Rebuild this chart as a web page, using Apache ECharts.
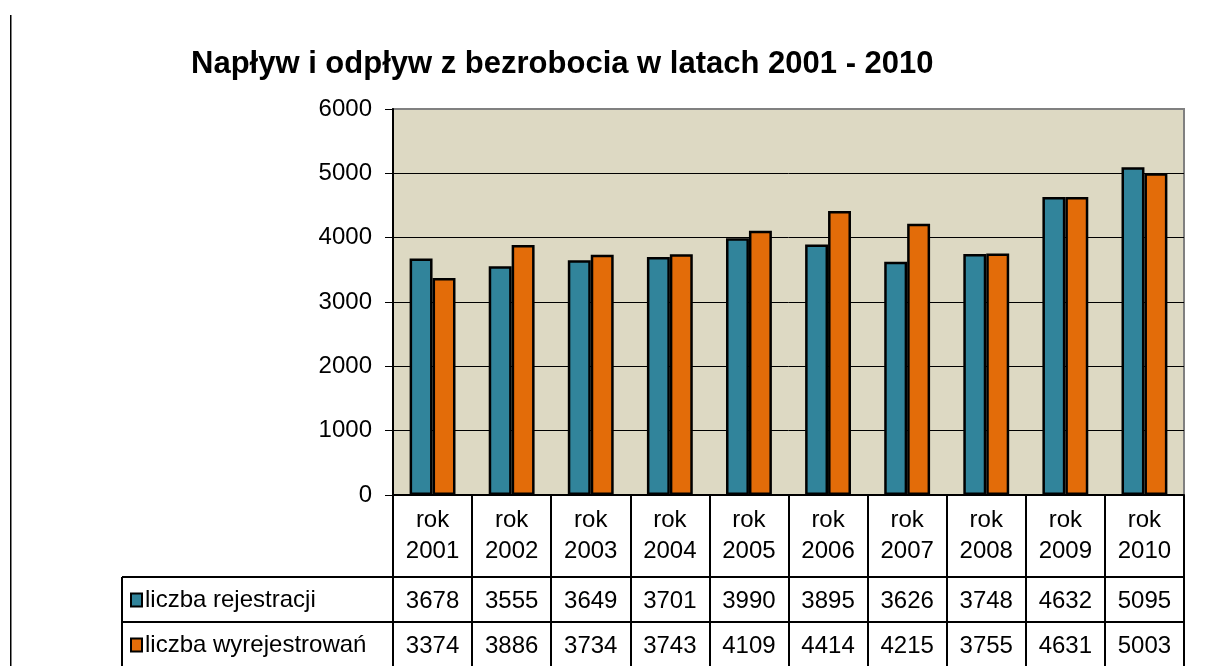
<!DOCTYPE html>
<html>
<head>
<meta charset="utf-8">
<script src="https://cdn.jsdelivr.net/npm/echarts@6/dist/echarts.min.js"></script>
<style>
  html, body { margin: 0; padding: 0; background: #fff; }
  #chart { width: 1207px; height: 666px; }
</style>
</head>
<body>
<div id="chart"></div>
<script>
const years = ['2001', '2002', '2003', '2004', '2005', '2006', '2007', '2008', '2009', '2010']
const rejestracje = [3678, 3555, 3649, 3701, 3990, 3895, 3626, 3748, 4632, 5095]
const wyrejestrowania = [3374, 3886, 3734, 3743, 4109, 4414, 4215, 3755, 4631, 5003]
const seriesNames = ['liczba rejestracji', 'liczba wyrejestrowań']
const colors = ['#31849B', '#E36C09']

const font = 'Liberation Sans, Arial, sans-serif'
const fs = 24
const myChart = echarts.init(document.getElementById('chart'))

// wiersz tabeli pod osią = dodatkowa oś kategorii z przesunięciem
function rowAxis(values, offset) {
  return {
    type: 'category',
    data: years,
    position: 'bottom',
    offset: offset,
    axisLine: { show: false },
    axisTick: { show: false },
    axisLabel: {
      interval: 0,
      margin: 12,
      color: '#000',
      fontFamily: font,
      fontSize: fs,
      formatter: (v, i) => String(values[i])
    }
  }
}

const option = {
  backgroundColor: '#fff',
  animation: false,
  title: {
    text: 'Napływ i odpływ z bezrobocia w latach 2001 - 2010',
    left: 186,
    top: 44,
    textStyle: { color: '#000', fontFamily: font, fontSize: 31, fontWeight: 'bold' }
  },
  legend: seriesNames.map((name, i) => ({
    data: [name],
    icon: 'rect',
    left: 125,
    top: 583 + i * 45,
    itemWidth: 11,
    itemHeight: 13,
    itemGap: 4,
    textStyle: { color: '#000', fontFamily: font, fontSize: fs, padding: [0, 0, 0, -2] }
  })),
  grid: {
    left: 393,
    right: 23,
    top: 109,
    bottom: 171,
    show: true,
    backgroundColor: '#DDD9C3',
    borderColor: '#808080',
    borderWidth: 2
  },
  xAxis: [
    {
      type: 'category',
      data: years,
      axisLine: { show: true, lineStyle: { color: '#000', width: 2 } },
      axisTick: { show: true, interval: 0, length: 171, lineStyle: { color: '#000', width: 2 } },
      axisLabel: {
        interval: 0,
        margin: 10,
        color: '#000',
        fontFamily: font,
        fontSize: fs,
        lineHeight: 31,
        formatter: v => 'rok\n' + v
      }
    },
    rowAxis(rejestracje, 82),
    rowAxis(wyrejestrowania, 127)
  ],
  yAxis: {
    type: 'value',
    min: 0,
    max: 6000,
    interval: 1000,
    axisLine: { show: true, lineStyle: { color: '#000', width: 2 } },
    axisTick: { show: true, length: 8, lineStyle: { color: '#000', width: 1 } },
    axisLabel: { margin: 21, color: '#000', fontFamily: font, fontSize: fs, formatter: v => String(v) },
    splitLine: {
      show: true,
      lineStyle: { color: ['#000', '#000', '#000', '#000', '#000', '#000', '#808080'], width: 1 }
    }
  },
  graphic: [
    { type: 'rect', shape: { x: 10, y: 15, width: 1.5, height: 651 }, style: { fill: '#000' } },
    { type: 'line', shape: { x1: 122, y1: 577, x2: 1184, y2: 577 }, style: { stroke: '#000', lineWidth: 2 } },
    { type: 'line', shape: { x1: 122, y1: 622, x2: 1184, y2: 622 }, style: { stroke: '#000', lineWidth: 2 } },
    { type: 'line', shape: { x1: 122, y1: 577, x2: 122, y2: 666 }, style: { stroke: '#000', lineWidth: 2 } }
  ],
  series: [rejestracje, wyrejestrowania].map((data, i) => ({
    type: 'bar',
    name: seriesNames[i],
    data: data,
    barWidth: '29%',
    barGap: '0%',
    itemStyle: { color: colors[i], borderColor: '#000', borderWidth: 2.5 }
  }))
}
myChart.setOption(option)
</script>
</body>
</html>
